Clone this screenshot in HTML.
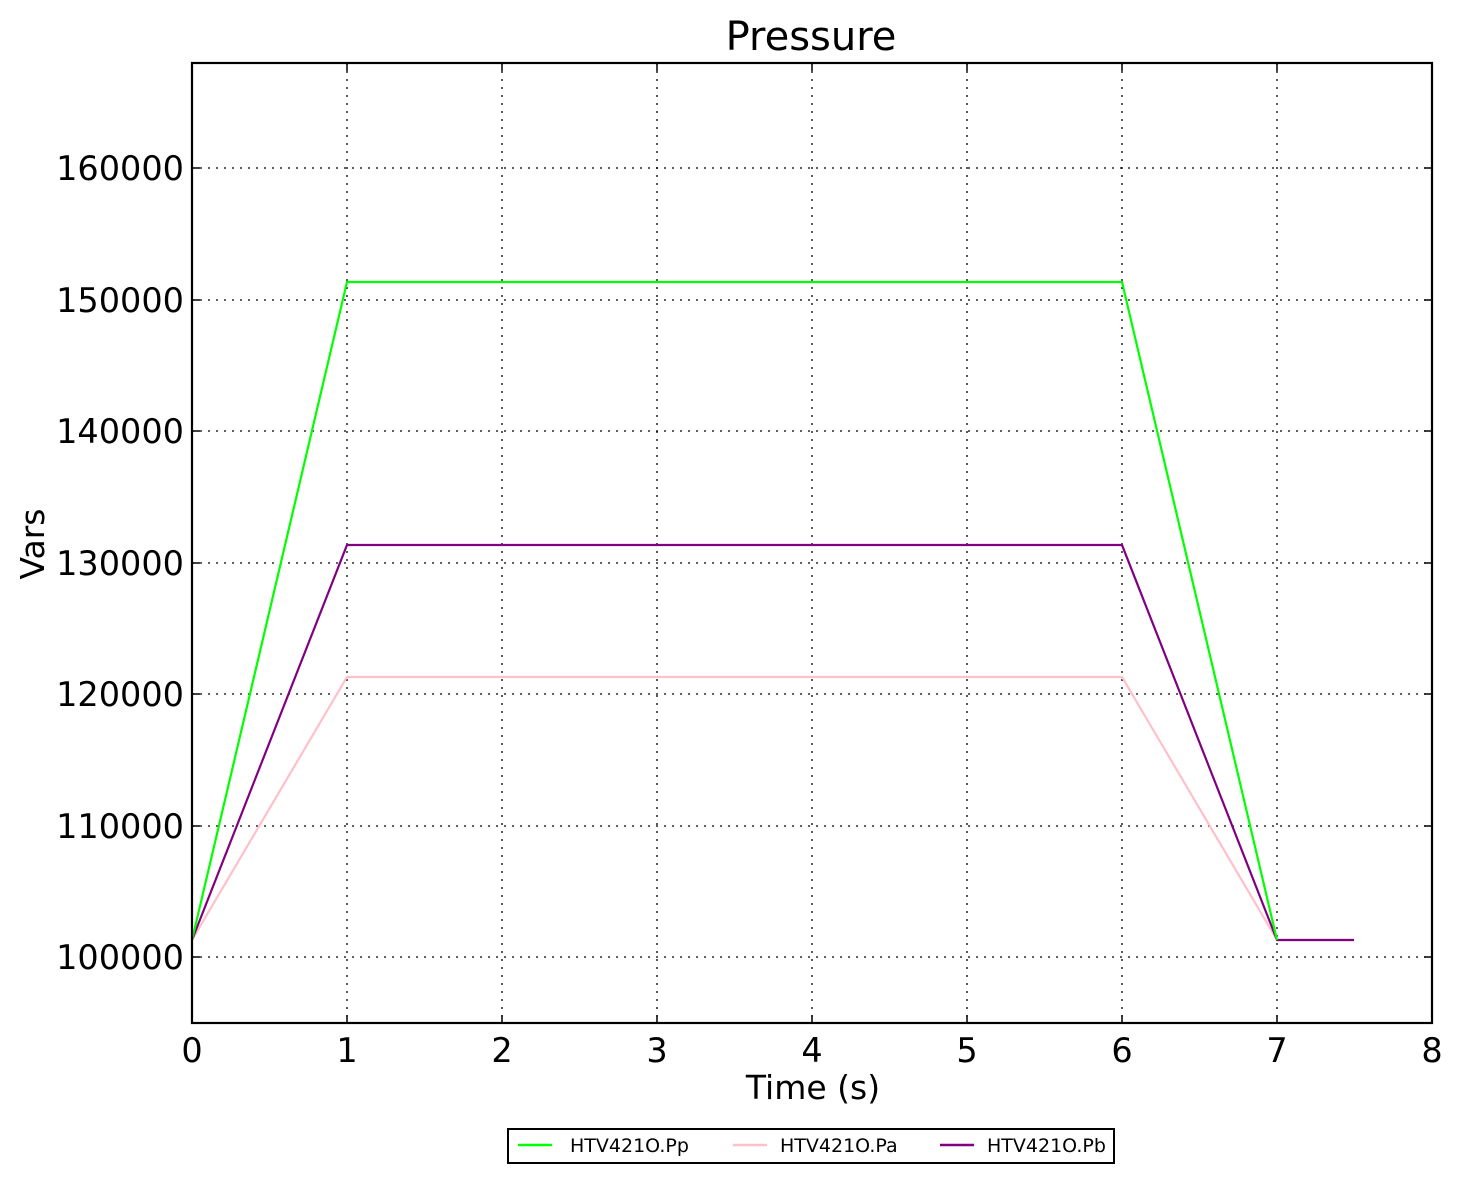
<!DOCTYPE html>
<html><head><meta charset="utf-8"><style>body{margin:0;background:#fff}</style></head><body>
<svg width="1459" height="1183" xmlns="http://www.w3.org/2000/svg" font-family="DejaVu Sans, Liberation Sans, sans-serif">
<rect width="1459" height="1183" fill="#fff"/>
<g stroke="#000" stroke-width="1.3" stroke-dasharray="2,6">
<line x1="347" y1="63" x2="347" y2="1023"/><line x1="502" y1="63" x2="502" y2="1023"/><line x1="657" y1="63" x2="657" y2="1023"/><line x1="812" y1="63" x2="812" y2="1023"/><line x1="967" y1="63" x2="967" y2="1023"/><line x1="1122" y1="63" x2="1122" y2="1023"/><line x1="1277" y1="63" x2="1277" y2="1023"/>
<line x1="192" y1="168" x2="1432" y2="168"/><line x1="192" y1="300" x2="1432" y2="300"/><line x1="192" y1="431" x2="1432" y2="431"/><line x1="192" y1="563" x2="1432" y2="563"/><line x1="192" y1="694" x2="1432" y2="694"/><line x1="192" y1="826" x2="1432" y2="826"/><line x1="192" y1="957" x2="1432" y2="957"/>
</g>
<g fill="none" stroke-width="2.2">
<polyline stroke="#ffc0cb" points="192,940 347,677 1122,677 1277,940 1354,940"/>
<polyline stroke="#800080" points="192,940 347,545 1122,545 1277,940 1354,940"/>
<polyline stroke="#00ff00" points="192,940 347,282 1122,282 1277,940"/>
</g>
<g stroke="#000" stroke-width="1.5">
<path d="M347,63v8M502,63v8M657,63v8M812,63v8M967,63v8M1122,63v8M1277,63v8M347,1023v-8M502,1023v-8M657,1023v-8M812,1023v-8M967,1023v-8M1122,1023v-8M1277,1023v-8"/>
<path d="M192,168h8M192,300h8M192,431h8M192,563h8M192,694h8M192,826h8M192,957h8M1432,168h-8M1432,300h-8M1432,431h-8M1432,563h-8M1432,694h-8M1432,826h-8M1432,957h-8"/>
</g>
<rect x="192" y="63" width="1240" height="960" fill="none" stroke="#000" stroke-width="2.2"/>
<g font-size="33.5" fill="#000" text-anchor="middle">
<text x="192" y="1062">0</text><text x="347" y="1062">1</text><text x="502" y="1062">2</text><text x="657" y="1062">3</text><text x="812" y="1062">4</text><text x="967" y="1062">5</text><text x="1122" y="1062">6</text><text x="1277" y="1062">7</text><text x="1432" y="1062">8</text>
</g>
<g font-size="33.5" fill="#000" text-anchor="end">
<text x="184" y="180">160000</text><text x="184" y="312">150000</text><text x="184" y="443">140000</text><text x="184" y="575">130000</text><text x="184" y="706">120000</text><text x="184" y="838">110000</text><text x="184" y="969">100000</text>
</g>
<text x="813" y="1099" font-size="33" text-anchor="middle">Time (s)</text>
<text x="44" y="544" font-size="33" text-anchor="middle" transform="rotate(-90 44 544)">Vars</text>
<text x="811" y="50" font-size="40" text-anchor="middle">Pressure</text>
<rect x="508" y="1129" width="606" height="34" fill="#fff" stroke="#000" stroke-width="2"/>
<g stroke-width="2.5"><line x1="518" y1="1145" x2="552" y2="1145" stroke="#00ff00"/><line x1="733" y1="1145" x2="767" y2="1145" stroke="#ffc0cb"/><line x1="940" y1="1145" x2="974" y2="1145" stroke="#800080"/></g>
<g font-size="19" fill="#000"><text x="570" y="1152">HTV421O.Pp</text><text x="780" y="1152">HTV421O.Pa</text><text x="987" y="1152">HTV421O.Pb</text></g>
</svg>
</body></html>
